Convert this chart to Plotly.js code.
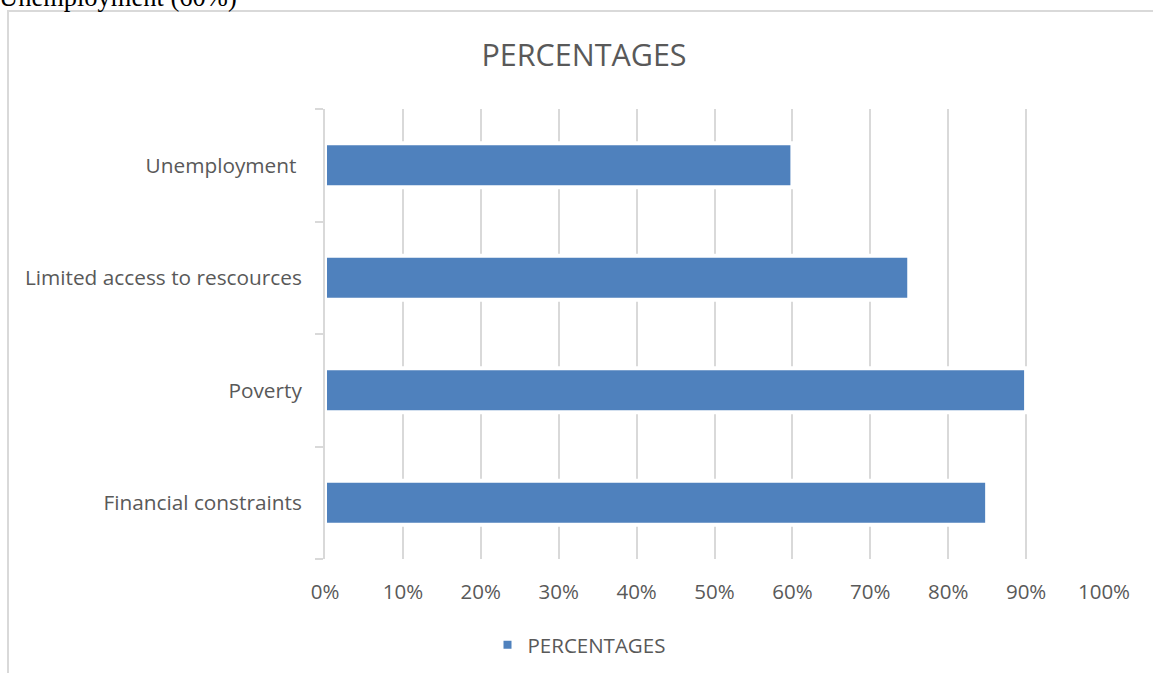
<!DOCTYPE html>
<html>
<head>
<meta charset="utf-8">
<script src="https://cdn.plot.ly/plotly-3.0.1.min.js"></script>
<style>
html,body{margin:0;padding:0;background:#fff;}
#chart{width:1153px;height:673px;}
</style>
</head>
<body>
<div id="chart"></div>
<script>
const categories = ["Financial constraints", "Poverty", "Limited access to rescources", "Unemployment "];
const percentages = [0.85, 0.90, 0.75, 0.60];
const seriesName = "PERCENTAGES";
const chartTitle = "PERCENTAGES";
const topNote = "Unemployment (60%)";

const W = 1153, H = 673;
const L = 325, R = 49, T = 109, B = 114;
const pw = W - L - R, ph = H - T - B;
const px = v => (v - L) / pw;
const py = v => (H - B - v) / ph;

const font = "'Open Sans', Lato, sans-serif";
const grey = "#595959";

const trace = {
  type: "bar",
  orientation: "h",
  y: categories,
  x: percentages,
  name: seriesName,
  width: 0.39,
  marker: {color: "#4f81bd", line: {color: "#ffffff", width: 4}},
  hoverinfo: "x+y"
};

const layout = {
  width: W, height: H,
  margin: {l: L, r: R, t: T, b: B, pad: 0, autoexpand: false},
  paper_bgcolor: "#ffffff",
  plot_bgcolor: "#ffffff",
  font: {family: font, color: grey, size: 21},
  title: {
    text: chartTitle,
    font: {family: font, size: 30.5, color: grey},
    xref: "container", yref: "container",
    x: 584 / W, xanchor: "center",
    y: 1 - 55 / H, yanchor: "middle"
  },
  xaxis: {
    range: [0, 1],
    dtick: 0.1,
    tick0: 0,
    tickformat: ".0%",
    showgrid: true,
    gridcolor: "#d9d9d9",
    gridwidth: 2,
    zeroline: false,
    showline: false,
    ticks: "",
    ticklabelstandoff: 18,
    tickfont: {family: font, size: 20.5, color: grey},
    automargin: false,
    fixedrange: true
  },
  yaxis: {
    type: "category",
    showline: true,
    linecolor: "#d9d9d9",
    linewidth: 2,
    ticks: "outside",
    tickson: "boundaries",
    ticklen: 8,
    tickcolor: "#d9d9d9",
    tickwidth: 2,
    ticklabelstandoff: 17,
    showgrid: false,
    tickfont: {family: font, size: 20.8, color: grey},
    automargin: false,
    fixedrange: true
  },
  showlegend: true,
  legend: {
    orientation: "h",
    x: px(579), xanchor: "center",
    y: py(645), yanchor: "middle",
    font: {family: font, size: 20.5, color: grey},
    itemwidth: 30
  },
  shapes: [{
    type: "rect",
    xref: "paper", yref: "paper",
    x0: px(8), x1: px(1200), y0: py(700), y1: py(11),
    line: {color: "#d9d9d9", width: 2},
    fillcolor: "rgba(0,0,0,0)",
    layer: "below"
  }],
  annotations: [{
    text: topNote,
    xref: "paper", yref: "paper",
    x: px(-3), xanchor: "left",
    y: py(-3), yanchor: "middle",
    showarrow: false,
    font: {family: "'Liberation Serif', 'Times New Roman', serif", size: 26.5, color: "#000000"}
  }],
  bargap: 0.6
};

Plotly.newPlot("chart", [trace], layout, {displayModeBar: false, staticPlot: true});
</script>
</body>
</html>
